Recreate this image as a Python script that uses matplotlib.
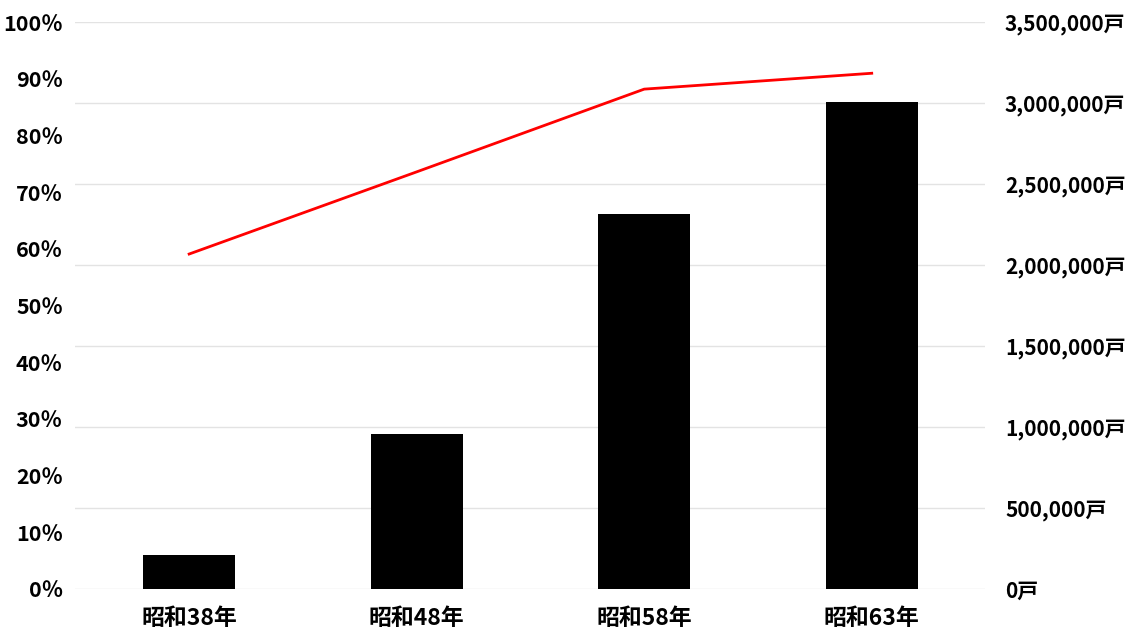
import matplotlib.pyplot as plt
import numpy as np

plt.rcParams['font.family'] = ['Noto Sans CJK JP', 'DejaVu Sans']
plt.rcParams['font.weight'] = 'bold'

years = ['昭和38年', '昭和48年', '昭和58年', '昭和63年']
counts = [210000, 957000, 2315000, 3005000]   # bars, right axis
rates = [59.1, 73.6, 88.2, 91.0]               # line, left axis (％)

left_ticks = np.arange(0, 101, 10)
right_ticks = np.arange(0, 3500001, 500000)

x = np.arange(len(years))

fig, ax = plt.subplots(figsize=(11.25, 6.36), dpi=100)
fig.subplots_adjust(left=0.067, right=0.876, top=0.965, bottom=0.074)

ax2 = ax.twinx()

# bars on the right axis, drawn behind the line
ax2.bar(x, counts, width=0.405, color='black', zorder=2)
ax2.set_ylim(0, 3500000)
ax2.set_yticks(right_ticks)
ax2.set_yticklabels([f'{v:,}戸' for v in right_ticks])
ax2.grid(axis='y', color='#e3e3e3', linewidth=1.0, zorder=0)
ax2.set_axisbelow(True)

ax.set_zorder(ax2.get_zorder() + 1)
ax.patch.set_visible(False)
ax.plot(x, rates, color='#ff0000', linewidth=2.0, zorder=3)
ax.set_ylim(0, 100)
ax.set_yticks(left_ticks)
ax.set_yticklabels([f'{v}％' for v in left_ticks])

ax.set_xlim(-0.5, 3.5)
ax.set_xticks(x)
ax.set_xticklabels(years)

for a in (ax, ax2):
    for s in a.spines.values():
        s.set_visible(False)

ax.tick_params(axis='y', length=0, pad=9, labelsize=15.5)
ax.tick_params(axis='x', length=0, pad=13, labelsize=16.5)
ax2.tick_params(axis='y', length=0, pad=14, labelsize=15)

plt.savefig('out.png', dpi=100)
